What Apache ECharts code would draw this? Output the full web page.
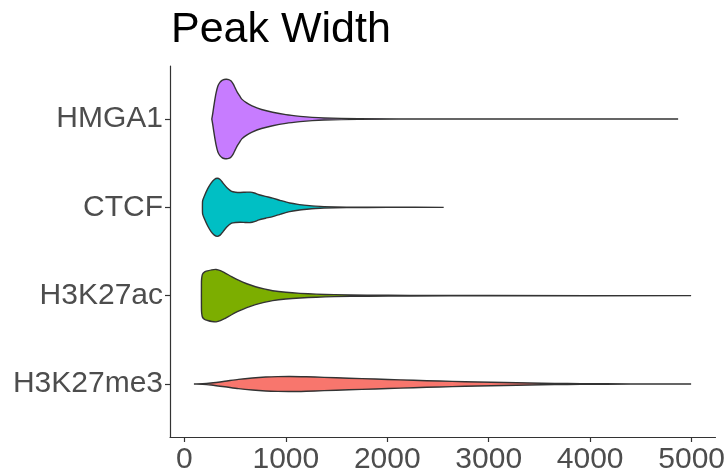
<!DOCTYPE html>
<html>
<head>
<meta charset="utf-8">
<script src="https://cdn.jsdelivr.net/npm/echarts@6/dist/echarts.min.js"></script>
<style>
  html, body { margin: 0; padding: 0; background: #fff; }
  #violin { width: 728px; height: 475px; }
</style>
</head>
<body>
<div id="violin"></div>
<script>
// categories from bottom to top, positions 1..4 on the y axis
var categories = ['H3K27me3', 'H3K27ac', 'CTCF', 'HMGA1'];
var colors = ['#F8766D', '#7CAE00', '#00BFC4', '#C77CFF'];
var xTicks = [0, 1000, 2000, 3000, 4000, 5000];

// density outlines: [peak width, relative half width]
var densH3K27me3 = [
    [94, 0], [180, 0.006], [263, 0.025], [400, 0.07], [533, 0.117], [670, 0.152],
    [802, 0.175], [920, 0.186], [1039, 0.19], [1200, 0.182], [1376, 0.167],
    [1620, 0.146], [1882, 0.125], [2130, 0.104], [2388, 0.083], [2640, 0.065],
    [2894, 0.05], [3150, 0.036], [3400, 0.025], [3650, 0.015], [3906, 0.008],
    [4400, 0.003], [4995, 0]
];
var densH3K27ac = [
    [168, 0.3], [170, 0.43], [178, 0.54], [200, 0.6], [229, 0.625], [270, 0.65],
    [313, 0.66], [355, 0.63], [398, 0.575], [465, 0.48], [533, 0.39], [615, 0.3],
    [701, 0.225], [785, 0.17], [870, 0.125], [1000, 0.085], [1140, 0.058],
    [1300, 0.038], [1477, 0.025], [1800, 0.013], [2219, 0.008], [3000, 0.003],
    [4995, 0]
];
var densCTCF = [
    [178, 0.1], [180, 0.17], [195, 0.275], [230, 0.47], [263, 0.61], [295, 0.7],
    [323, 0.73], [352, 0.7], [381, 0.61], [420, 0.49], [465, 0.4], [505, 0.38],
    [550, 0.375], [600, 0.38], [651, 0.383], [690, 0.36], [735, 0.317],
    [800, 0.275], [870, 0.233], [950, 0.17], [1039, 0.108], [1120, 0.075],
    [1207, 0.05], [1290, 0.03], [1376, 0.017], [1600, 0.006], [2000, 0.002],
    [2556, 0]
];
var densHMGA1 = [
    [270, 0], [280, 0.15], [296, 0.42], [312, 0.65], [330, 0.83], [350, 0.92],
    [371, 0.97], [392, 0.995], [415, 1.0], [437, 0.99], [458, 0.96],
    [482, 0.875], [502, 0.77], [522, 0.67], [545, 0.58], [566, 0.5],
    [610, 0.41], [667, 0.33], [760, 0.24], [870, 0.17], [1000, 0.11],
    [1140, 0.067], [1260, 0.04], [1376, 0.025], [1713, 0.008], [2500, 0.002],
    [4867, 0]
];
var densities = [densH3K27me3, densH3K27ac, densCTCF, densHMGA1];

function violinItem(profile, pos, color) {
    return function (params, api) {
        // 0.45 of one category step on each side, like geom_violin width 0.9
        var half = 0.45 * api.size([0, 1])[1];
        var top = [], bottom = [];
        profile.forEach(function (p) {
            var c = api.coord([p[0], pos]);
            top.push([c[0], c[1] - p[1] * half]);
            bottom.unshift([c[0], c[1] + p[1] * half]);
        });
        return {
            type: 'polygon',
            shape: { points: top.concat(bottom), smooth: 0.25 },
            style: { fill: color, stroke: '#333333', lineWidth: 1.4 }
        };
    };
}

var series = densities.map(function (d, i) {
    return {
        name: categories[i],
        type: 'custom',
        renderItem: violinItem(d, i + 1, colors[i]),
        data: [[d[0][0], i + 1]],
        silent: true
    };
});

var labelFont = { fontFamily: 'Liberation Sans', fontSize: 30, color: '#4D4D4D' };

var option = {
    animation: false,
    backgroundColor: '#ffffff',
    title: {
        text: 'Peak Width',
        left: 166,
        top: 4,
        textStyle: { fontFamily: 'Liberation Sans', fontSize: 43, fontWeight: 'normal', color: '#000000' }
    },
    grid: { left: 170, right: 9, top: 66, bottom: 34 },
    xAxis: {
        type: 'value',
        min: -142,
        max: 5235,
        axisLine: { show: true, onZero: false, lineStyle: { color: '#333333', width: 1.2 } },
        axisTick: { show: true, length: 5, customValues: xTicks, lineStyle: { color: '#333333', width: 1.2 } },
        axisLabel: Object.assign({
            customValues: xTicks,
            margin: 8,
            formatter: function (v) { return String(v); }
        }, labelFont),
        splitLine: { show: false }
    },
    yAxis: {
        type: 'value',
        min: 0.4,
        max: 4.6,
        axisLine: { show: true, onZero: false, lineStyle: { color: '#333333', width: 1.2 } },
        axisTick: { show: true, length: 5, customValues: [1, 2, 3, 4], lineStyle: { color: '#333333', width: 1.2 } },
        axisLabel: Object.assign({
            customValues: [1, 2, 3, 4],
            margin: 7,
            formatter: function (v) { return categories[Math.round(v) - 1]; }
        }, labelFont),
        splitLine: { show: false }
    },
    series: series
};

var chart = echarts.init(document.getElementById('violin'));
chart.setOption(option);
</script>
</body>
</html>
